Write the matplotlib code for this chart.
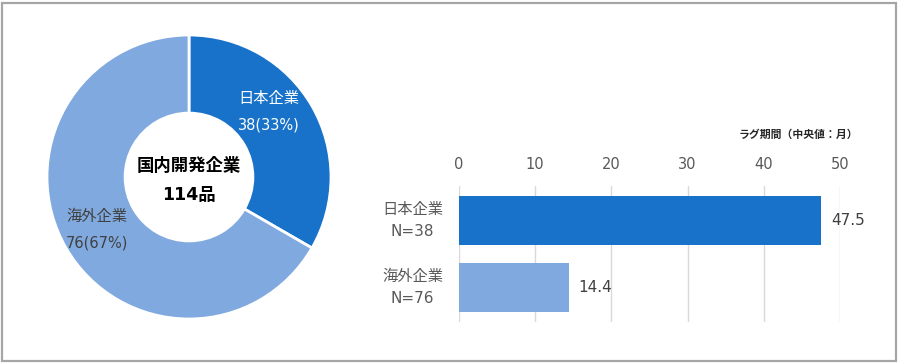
import matplotlib
matplotlib.use("Agg")
import matplotlib.pyplot as plt
from matplotlib.patches import Rectangle

# Latin glyphs from DejaVu (Verdana-like), Japanese falls back to Noto CJK
plt.rcParams['font.family'] = ['DejaVu Sans', 'Noto Sans CJK JP']

# donut data
donut_labels = ['日本企業', '海外企業']
donut_counts = [38, 76]
donut_pcts = [33, 67]
donut_total = 114
donut_title = '国内開発企業'

# bar data
bar_labels = ['日本企業\nN=38', '海外企業\nN=76']
bar_values = [47.5, 14.4]
bar_ticks = [0, 10, 20, 30, 40, 50]
bar_axis_title = 'ラグ期間（中央値：月）'

dark_blue = '#1872C9'
light_blue = '#80AADF'
grey_text = '#595959'

W, H = 900, 363
fig = plt.figure(figsize=(W / 100, H / 100), dpi=100)

# outer frame
fig.patches.append(Rectangle((1.5 / W, 2.5 / H), 894 / W, 358 / H, transform=fig.transFigure,
                             fill=False, edgecolor='#A6A6A6', linewidth=1.6))

# donut: center (189,177), radius 142 px
r = 142
cx, cy = 189, 177
ax1 = fig.add_axes([(cx - r) / W, 1 - (cy + r) / H, 2 * r / W, 2 * r / H])
ax1.pie(donut_counts, colors=[dark_blue, light_blue], startangle=90, counterclock=False,
        radius=1.0, wedgeprops=dict(width=0.55, edgecolor='white', linewidth=2))
ax1.set_xlim(-1, 1)
ax1.set_ylim(-1, 1)
ax1.set_aspect('equal')
ax1.axis('off')

ax1.text(0, 0.08, donut_title, ha='center', va='center', fontsize=12.5,
         fontweight='bold', color='black')
ax1.text(0, -0.13, f'{donut_total}品', ha='center', va='center', fontsize=12.5,
         fontweight='bold', color='black')

# slice labels (positions in data coords of donut axes)
label_pos = [(0.56, 0.55), (-0.65, -0.28)]
label_colors = ['white', '#404040']
for (lx, ly), name, n, p, c in zip(label_pos, donut_labels, donut_counts, donut_pcts, label_colors):
    ax1.text(lx, ly, name, ha='center', va='center', fontsize=11, color=c)
    ax1.text(lx, ly - 0.185, f'{n}({p}%)', ha='center', va='center', fontsize=10.5, color=c)

# bar chart: x 0..50 spans px 459..840, y spans px 186..322
ax2 = fig.add_axes([459 / W, 1 - 322 / H, 381 / W, 136 / H])
ypos = list(range(len(bar_values)))
ax2.barh(ypos, bar_values, height=0.73, color=[dark_blue, light_blue], zorder=3)
ax2.set_xlim(0, 50)
ax2.set_ylim(1.515, -0.515)
ax2.set_xticks(bar_ticks)
ax2.xaxis.tick_top()
ax2.tick_params(axis='x', length=0, pad=10, labelsize=10.5, labelcolor=grey_text)
ax2.set_yticks([])
ax2.grid(axis='x', color='#D9D9D9', linewidth=1, zorder=0)
for s in ax2.spines.values():
    s.set_visible(False)

for y, v in zip(ypos, bar_values):
    ax2.text(v + 1.3, y, f'{v}', ha='left', va='center', fontsize=11,
             color='#404040', clip_on=False)

for y, lab in zip(ypos, bar_labels):
    ax2.text(-6.1, y, lab, ha='center', va='center', fontsize=11, color=grey_text,
             linespacing=1.6, clip_on=False)

fig.text(858 / W, 1 - 135 / H, bar_axis_title, ha='right', va='center', fontsize=7.8,
         fontweight='bold', color='#262626')

fig.savefig('out.png', dpi=100)
